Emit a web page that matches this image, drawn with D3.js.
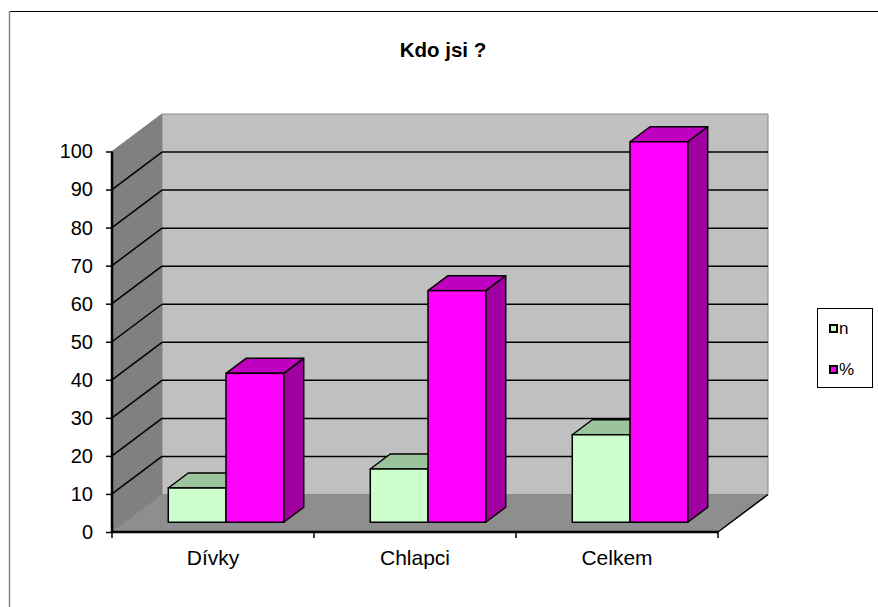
<!DOCTYPE html>
<html><head><meta charset="utf-8">
<script src="https://cdn.jsdelivr.net/npm/d3@7"></script>
<style>body{margin:0;background:#fff}svg{display:block;font-family:Arial,"Liberation Sans",sans-serif}</style>
</head><body><svg id="c" width="878" height="607"></svg>
<script>
const categories = ["Dívky", "Chlapci", "Celkem"];
const seriesNames = ["n", "%"];
const nValues = [9, 14, 23];
const pctValues = [39.13, 60.87, 100];
const yTicks = [0, 10, 20, 30, 40, 50, 60, 70, 80, 90, 100];
const title = "Kdo jsi ?";

const svg = d3.select("#c");
const W = 878, H = 607;

// chart frame
svg.append("line").attr("x1",9.5).attr("y1",11.5).attr("x2",W).attr("y2",11.5).attr("stroke","#000").attr("stroke-width",1);
svg.append("line").attr("x1",9.5).attr("y1",11.5).attr("x2",9.5).attr("y2",H).attr("stroke","#888").attr("stroke-width",1.5);

svg.append("text").attr("x",443).attr("y",57).attr("text-anchor","middle")
  .attr("font-weight","bold").attr("font-size",20.5).text(title);

const x = d3.scaleBand().domain(categories).range([112,718]);
const y = d3.scaleLinear().domain([0,100]).range([532,151.5]);
const DX = 50, DY = -37.5;
const off = f => [DX*f, DY*f];

const g = svg.append("g");
const pts = a => a.map(p=>p.join(",")).join(" ");

// side wall
g.append("polygon").attr("points",pts([[112,y(0)],[112,y(100)],[112+DX,y(100)+DY],[112+DX,y(0)+DY]]))
  .attr("fill","#808080").attr("stroke","#777").attr("stroke-width",1);
// back wall
g.append("polygon").attr("points",pts([[112+DX,y(0)+DY],[112+DX,y(100)+DY],[718+DX,y(100)+DY],[718+DX,y(0)+DY]]))
  .attr("fill","#C0C0C0").attr("stroke","#888").attr("stroke-width",1);
// floor
g.append("polygon").attr("points",pts([[112,y(0)],[112+DX,y(0)+DY],[718+DX,y(0)+DY],[718,y(0)]]))
  .attr("fill","#8E8E8E").attr("stroke","none");

// gridlines
yTicks.filter(v=>v>0 && v<100).forEach(v=>{
  g.append("line").attr("x1",112).attr("y1",y(v)).attr("x2",112+DX).attr("y2",y(v)+DY)
   .attr("stroke","#000").attr("stroke-width",1.5);
  g.append("line").attr("x1",112+DX).attr("y1",y(v)+DY).attr("x2",718+DX).attr("y2",y(v)+DY)
   .attr("stroke","#000").attr("stroke-width",1.5);
});
// floor right edge
g.append("line").attr("x1",718).attr("y1",y(0)).attr("x2",718+DX).attr("y2",y(0)+DY).attr("stroke","#000").attr("stroke-width",1.5);

// bars
const f1 = 0.26, f2 = 0.66;
const bw = x.bandwidth()/3.5;
const colors = [
  {front:"#CCFFCC", top:"#9CC49C", side:"#8FB58F"},
  {front:"#FF00FF", top:"#C000C0", side:"#A000A0"}
];
const series = [nValues, pctValues];
categories.forEach((c,i)=>{
  const cx = x(c) + x.bandwidth()/2;
  series.forEach((vals,s)=>{
    const x0 = cx - bw + s*bw, x1 = x0 + bw;
    const yt = y(vals[i]), yb = y(0);
    const [a1,b1] = off(f1), [a2,b2] = off(f2);
    const col = colors[s];
    g.append("polygon").attr("points",pts([[x1+a1,yt+b1],[x1+a2,yt+b2],[x1+a2,yb+b2],[x1+a1,yb+b1]]))
      .attr("fill",col.side).attr("stroke","#000").attr("stroke-width",1.5).attr("stroke-linejoin","round");
    g.append("polygon").attr("points",pts([[x0+a1,yt+b1],[x0+a2,yt+b2],[x1+a2,yt+b2],[x1+a1,yt+b1]]))
      .attr("fill",col.top).attr("stroke","#000").attr("stroke-width",1.5).attr("stroke-linejoin","round");
    g.append("rect").attr("x",x0+a1).attr("y",yt+b1).attr("width",bw).attr("height",yb-yt)
      .attr("fill",col.front).attr("stroke","#000").attr("stroke-width",1.5);
  });
});

// axes
const yAxis = d3.axisLeft(y).tickValues(yTicks).tickSize(6).tickPadding(13).tickFormat(d3.format("d"));
const ya = svg.append("g").attr("transform","translate(112,0)").call(yAxis);
ya.select(".domain").attr("stroke","#000").attr("stroke-width",2.5).attr("d",`M0,${y(100)}V${y(0)}`);
ya.selectAll(".tick line").attr("stroke","#000").attr("stroke-width",1.5);
ya.selectAll(".tick text").attr("font-size",20).attr("font-family","Arial, 'Liberation Sans', sans-serif").attr("fill","#000");

const xAxis = d3.axisBottom(x).tickSize(0).tickPadding(18);
const xa = svg.append("g").attr("transform",`translate(0,${y(0)})`).call(xAxis);
xa.select(".domain").attr("stroke","#000").attr("stroke-width",2.5).attr("d","M112,0H718");
xa.selectAll(".tick text").attr("font-size",21).attr("font-family","Arial, 'Liberation Sans', sans-serif").attr("fill","#000").attr("dy","0.71em");
const bounds = [0,1,2,3].map(k=>112 + k*x.step());
xa.selectAll(".bt").data(bounds).enter().append("line").attr("class","bt")
  .attr("x1",d=>d).attr("x2",d=>d).attr("y1",0).attr("y2",6).attr("stroke","#000").attr("stroke-width",1.5);

// legend
const lg = svg.append("g");
lg.append("rect").attr("x",817.5).attr("y",308.5).attr("width",55).attr("height",79).attr("fill","#fff").attr("stroke","#000").attr("stroke-width",1);
seriesNames.forEach((nm,k)=>{
  const yy = 329 + k*41;
  lg.append("rect").attr("x",830).attr("y",yy-4).attr("width",7).attr("height",7)
    .attr("fill",colors[k].front).attr("stroke","#000").attr("stroke-width",2);
  lg.append("text").attr("x",839).attr("y",yy+5).attr("font-size",17).text(nm);
});
</script></body></html>
